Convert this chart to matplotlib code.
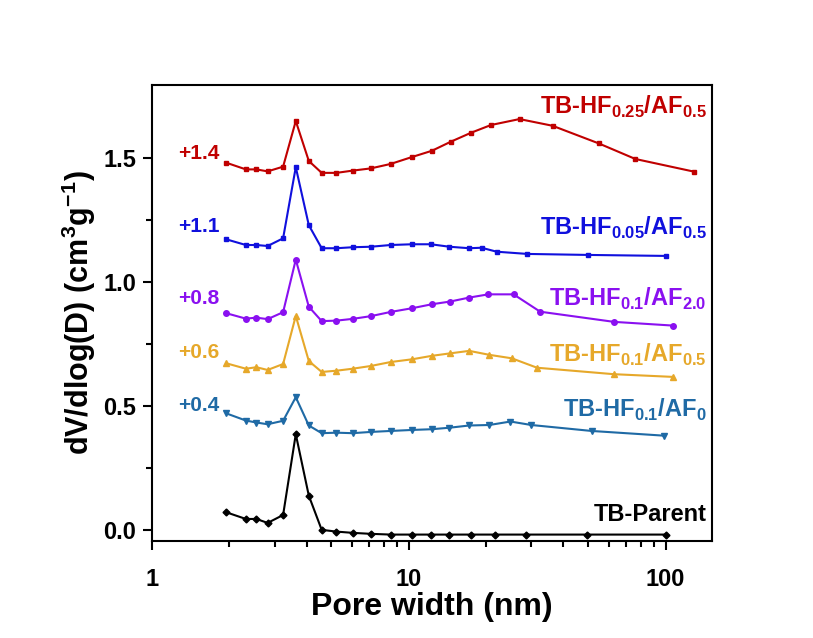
import matplotlib.pyplot as plt
from matplotlib.ticker import FixedLocator, NullFormatter

plt.rcParams['font.family'] = ['Liberation Sans', 'DejaVu Sans']
plt.rcParams['font.weight'] = 'bold'
plt.rcParams['mathtext.fontset'] = 'custom'
plt.rcParams['mathtext.rm'] = 'Liberation Sans:bold'
plt.rcParams['mathtext.bf'] = 'Liberation Sans:bold'

# pore widths (nm), shared low range
x_low = [1.945, 2.32, 2.55, 2.82, 3.24, 3.63, 4.08, 4.58, 5.23, 6.04, 7.11, 8.5]

# TB-Parent
x_parent = x_low + [10.3, 12.2, 14.4, 17.5, 21.7, 28.6, 49.3, 100]
y_parent = [0.071, 0.044, 0.044, 0.028, 0.060, 0.386, 0.138, 0.0, -0.007, -0.012,
            -0.016, -0.019, -0.019, -0.019, -0.019, -0.019, -0.019, -0.019, -0.019, -0.019]

# TB-HF0.1/AF0 (+0.4)
x_af0 = x_low + [10.3, 12.3, 14.4, 17.2, 20.6, 24.9, 30.0, 51.5, 98.6]
y_af0 = [0.470, 0.441, 0.433, 0.426, 0.440, 0.535, 0.421, 0.390, 0.392, 0.390,
         0.395, 0.399, 0.403, 0.406, 0.412, 0.421, 0.423, 0.437, 0.423, 0.399, 0.380]

# TB-HF0.1/AF0.5 (+0.6)
x_af05 = x_low + [10.3, 12.3, 14.5, 17.2, 20.6, 25.2, 31.6, 62.8, 107]
y_af05 = [0.672, 0.650, 0.656, 0.645, 0.669, 0.863, 0.681, 0.637, 0.642, 0.650,
          0.661, 0.677, 0.688, 0.702, 0.712, 0.722, 0.706, 0.692, 0.654, 0.628, 0.617]

# TB-HF0.1/AF2.0 (+0.8)
x_af2 = x_low + [10.3, 12.3, 14.5, 17.2, 20.4, 25.6, 32.5, 63.0, 107]
y_af2 = [0.874, 0.852, 0.856, 0.850, 0.878, 1.090, 0.900, 0.842, 0.844, 0.851,
         0.862, 0.879, 0.894, 0.910, 0.921, 0.937, 0.950, 0.950, 0.880, 0.839, 0.824]

# TB-HF0.05/AF0.5 (+1.1)
x_hf005 = x_low + [10.3, 12.2, 14.4, 17.2, 19.2, 22.0, 29.0, 49.8, 100]
y_hf005 = [1.172, 1.149, 1.149, 1.145, 1.176, 1.463, 1.229, 1.136, 1.136, 1.140,
           1.142, 1.149, 1.152, 1.152, 1.142, 1.136, 1.138, 1.122, 1.113, 1.109, 1.105]

# TB-HF0.25/AF0.5 (+1.4)
x_hf025 = x_low + [10.3, 12.3, 14.6, 17.5, 20.9, 27.0, 36.3, 54.9, 76.3, 129]
y_hf025 = [1.481, 1.454, 1.454, 1.446, 1.465, 1.649, 1.488, 1.440, 1.440, 1.449,
           1.458, 1.476, 1.504, 1.529, 1.566, 1.602, 1.633, 1.657, 1.630, 1.559,
           1.496, 1.445]

fig = plt.figure(figsize=(8.13, 6.38), dpi=100)
ax = fig.add_axes([0.187, 0.152, 0.689, 0.715])

ax.plot(x_parent, y_parent, color='black', marker='D', ms=3.5, lw=1.5)
ax.plot(x_af0, y_af0, color='#1F6AA5', marker='v', ms=4.5, lw=1.5)
ax.plot(x_af05, y_af05, color='#E6A82A', marker='^', ms=4.5, lw=1.5)
ax.plot(x_af2, y_af2, color='#8A10F0', marker='o', ms=4, lw=1.5)
ax.plot(x_hf005, y_hf005, color='#1010DD', marker='s', ms=3.5, lw=1.5)
ax.plot(x_hf025, y_hf025, color='#C00000', marker='s', ms=3.5, lw=1.5)

ax.set_xscale('log')
ax.set_xlim(1, 152)
ax.set_ylim(-0.045, 1.795)

ax.xaxis.set_major_locator(FixedLocator([1, 10, 100]))
ax.set_xticklabels(['1', '10', '100'])
ax.xaxis.set_minor_locator(FixedLocator([2, 3, 4, 5, 6, 7, 8, 9, 20, 30, 40, 50, 60, 70, 80, 90]))
ax.xaxis.set_minor_formatter(NullFormatter())
ax.set_yticks([0.0, 0.5, 1.0, 1.5])
ax.set_yticks([0.25, 0.75, 1.25], minor=True)

ax.tick_params(which='major', direction='out', length=6.5, width=1.5, labelsize=17)
ax.tick_params(which='minor', direction='out', length=4.3, width=1.5)
ax.tick_params(axis='x', which='major', pad=13)
ax.tick_params(axis='y', which='major', pad=5)
for s in ax.spines.values():
    s.set_linewidth(1.5)

ax.set_xlabel('Pore width (nm)', fontsize=23, fontweight='bold', labelpad=1)
ax.set_ylabel(r'dV/dlog(D) (cm$^{3}$g$^{-1}$)', fontsize=22, fontweight='bold', labelpad=4)

# offset labels
for txt, yv, c in [('+1.4', 1.52, '#C00000'), ('+1.1', 1.225, '#1010DD'),
                   ('+0.8', 0.935, '#8A10F0'), ('+0.6', 0.715, '#E6A82A'),
                   ('+0.4', 0.5, '#1F6AA5')]:
    ax.text(1.52, yv, txt, color=c, fontsize=15, fontweight='bold', ha='center', va='center')

# series labels
for txt, yv, c in [(r'TB-HF$_{0.25}$/AF$_{0.5}$', 1.705, '#C00000'),
                   (r'TB-HF$_{0.05}$/AF$_{0.5}$', 1.22, '#1010DD'),
                   (r'TB-HF$_{0.1}$/AF$_{2.0}$', 0.93, '#8A10F0'),
                   (r'TB-HF$_{0.1}$/AF$_{0.5}$', 0.705, '#E6A82A'),
                   (r'TB-HF$_{0.1}$/AF$_{0}$', 0.485, '#1F6AA5'),
                   ('TB-Parent', 0.06, 'black')]:
    ax.text(0.99, yv, txt, color=c, fontsize=17, fontweight='bold', ha='right', va='center',
            transform=ax.get_yaxis_transform())

fig.savefig('out.png', dpi=100)
